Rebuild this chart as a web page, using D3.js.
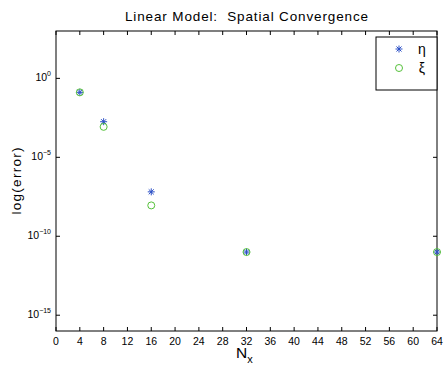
<!DOCTYPE html>
<html>
<head>
  <script src="https://d3js.org/d3.v7.min.js"></script>
  <style>
    body { margin: 0; background: #fff; }
    text { font-family: "Liberation Sans", Arial, sans-serif; fill: #000; }
  </style>
</head>
<body>
<div class="chart"></div>
<script>
  // data
  const nx = [4, 8, 16, 32, 64];
  const etaErr = [1.3e-1, 1.8e-3, 6.5e-8, 1.0e-11, 1.0e-11];
  const xiErr = [1.3e-1, 8.5e-4, 9.0e-9, 1.0e-11, 1.0e-11];
  const xTicks = d3.range(0, 65, 4);
  const yTicks = [1e0, 1e-5, 1e-10, 1e-15];
  const seriesNames = ["\u03b7", "\u03be"];

  const width = 445, height = 365;
  const margin = { top: 31, right: 8, bottom: 34, left: 56 };
  const w = width - margin.left - margin.right;
  const h = height - margin.top - margin.bottom;

  const svg = d3.select(".chart").append("svg")
    .attr("width", width).attr("height", height);

  const x = d3.scaleLinear().domain([0, 64]).range([0, w]);
  const y = d3.scaleLog().domain([1e-16, 1e3]).range([h, 0]);

  const g = svg.append("g").attr("transform", `translate(${margin.left},${margin.top})`);

  // frame
  g.append("rect").attr("width", w).attr("height", h)
    .attr("fill", "none").attr("stroke", "#000").attr("stroke-width", 1);

  const tl = 4;
  // x ticks bottom + top
  xTicks.forEach(t => {
    g.append("line").attr("x1", x(t)).attr("x2", x(t)).attr("y1", h).attr("y2", h - tl).attr("stroke", "#000");
    g.append("line").attr("x1", x(t)).attr("x2", x(t)).attr("y1", 0).attr("y2", tl).attr("stroke", "#000");
    g.append("text").attr("x", x(t)).attr("y", h + 13.5).attr("text-anchor", "middle")
      .attr("font-size", 10.5).text(t);
  });

  // y ticks left + right
  yTicks.forEach(t => {
    const yy = y(t);
    g.append("line").attr("x1", 0).attr("x2", tl).attr("y1", yy).attr("y2", yy).attr("stroke", "#000");
    g.append("line").attr("x1", w).attr("x2", w - tl).attr("y1", yy).attr("y2", yy).attr("stroke", "#000");
    const e = Math.round(Math.log10(t));
    const lab = g.append("text").attr("x", -5).attr("y", yy + 3).attr("text-anchor", "end")
      .attr("font-size", 10.5);
    lab.append("tspan").text("10");
    lab.append("tspan").attr("dy", -5).attr("font-size", 7).text(e === 0 ? "0" : "\u2212" + (-e));
  });

  // markers
  function star(sel, cx, cy, r) {
    const s = sel.append("g").attr("transform", `translate(${cx},${cy})`)
      .attr("stroke", "#2b4fc6").attr("stroke-width", 1);
    s.append("line").attr("x1", -r).attr("x2", r).attr("y1", 0).attr("y2", 0);
    s.append("line").attr("x1", 0).attr("x2", 0).attr("y1", -r).attr("y2", r);
    const d = r * 0.72;
    s.append("line").attr("x1", -d).attr("x2", d).attr("y1", -d).attr("y2", d);
    s.append("line").attr("x1", -d).attr("x2", d).attr("y1", d).attr("y2", -d);
  }
  function circ(sel, cx, cy, r) {
    sel.append("circle").attr("cx", cx).attr("cy", cy).attr("r", r)
      .attr("fill", "none").attr("stroke", "#55c13a").attr("stroke-width", 1);
  }

  nx.forEach((n, i) => star(g, x(n), y(etaErr[i]), 3.5));
  nx.forEach((n, i) => circ(g, x(n), y(xiErr[i]), 3.5));

  // legend
  const lg = g.append("g").attr("transform", `translate(${w - 61},6)`);
  lg.append("rect").attr("width", 61).attr("height", 53)
    .attr("fill", "#fff").attr("stroke", "#000");
  star(lg, 23, 12, 3.5);
  circ(lg, 23, 31, 3.5);
  lg.append("text").attr("x", 46).attr("y", 17).attr("text-anchor", "middle").attr("font-size", 14).text(seriesNames[0]);
  lg.append("text").attr("x", 46).attr("y", 36).attr("text-anchor", "middle").attr("font-size", 14).text(seriesNames[1]);

  // titles
  svg.append("text").attr("x", 125).attr("y", 21)
    .attr("font-size", 13.5).attr("textLength", 243).attr("lengthAdjust", "spacing")
    .text("Linear Model:\u00a0 Spatial Convergence");
  svg.append("text").attr("transform", `translate(21,${margin.top + h / 2}) rotate(-90)`)
    .attr("text-anchor", "middle").attr("font-size", 13.5)
    .attr("textLength", 67).attr("lengthAdjust", "spacing").text("log(error)");
  const xl = svg.append("text").attr("x", 236).attr("y", 358)
    .attr("font-size", 15.5);
  xl.append("tspan").text("N");
  xl.append("tspan").attr("dy", 5).attr("font-size", 11).text("x");
</script>
</body>
</html>
